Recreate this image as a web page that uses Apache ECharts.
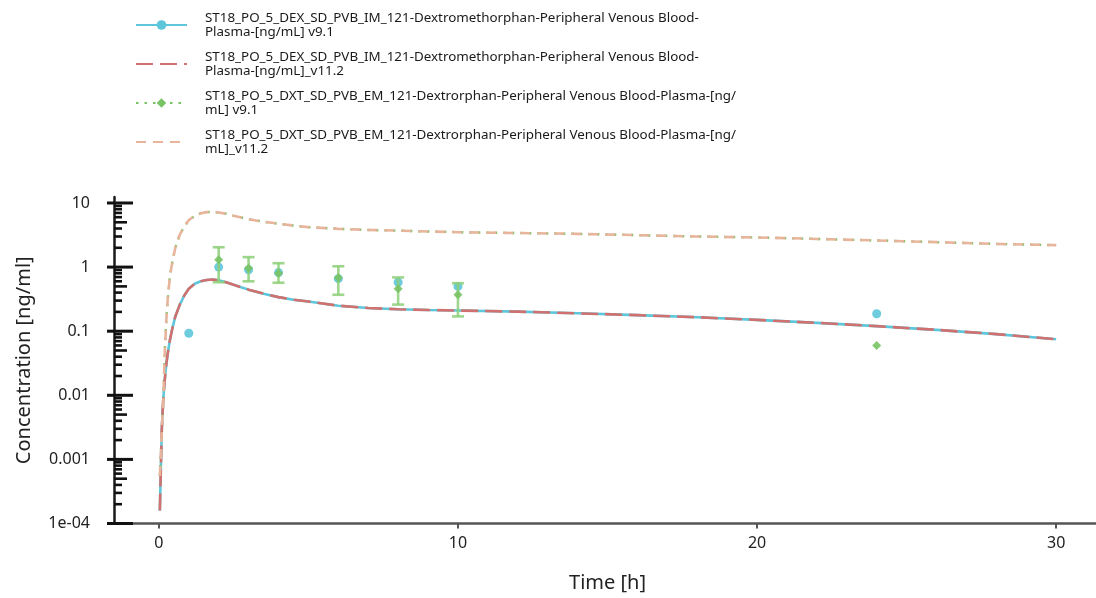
<!DOCTYPE html>
<html>
<head>
<meta charset="utf-8">
<script src="https://cdn.jsdelivr.net/npm/echarts@6/dist/echarts.min.js"></script>
<style>
  html, body { margin: 0; padding: 0; background: #ffffff; }
  #chart { width: 1096px; height: 598px; }
</style>
</head>
<body>
<div id="chart"></div>
<script>
// Series names (legend wraps them onto two lines)
const seriesNames = [
  'ST18_PO_5_DEX_SD_PVB_IM_121-Dextromethorphan-Peripheral Venous Blood-Plasma-[ng/mL] v9.1',
  'ST18_PO_5_DEX_SD_PVB_IM_121-Dextromethorphan-Peripheral Venous Blood-Plasma-[ng/mL]_v11.2',
  'ST18_PO_5_DXT_SD_PVB_EM_121-Dextrorphan-Peripheral Venous Blood-Plasma-[ng/mL] v9.1',
  'ST18_PO_5_DXT_SD_PVB_EM_121-Dextrorphan-Peripheral Venous Blood-Plasma-[ng/mL]_v11.2'
];
const legendLines = [
  'ST18_PO_5_DEX_SD_PVB_IM_121-Dextromethorphan-Peripheral Venous Blood-\nPlasma-[ng/mL] v9.1',
  'ST18_PO_5_DEX_SD_PVB_IM_121-Dextromethorphan-Peripheral Venous Blood-\nPlasma-[ng/mL]_v11.2',
  'ST18_PO_5_DXT_SD_PVB_EM_121-Dextrorphan-Peripheral Venous Blood-Plasma-[ng/\nmL] v9.1',
  'ST18_PO_5_DXT_SD_PVB_EM_121-Dextrorphan-Peripheral Venous Blood-Plasma-[ng/\nmL]_v11.2'
];

// Simulated time course [h]
const simTime = [0.033, 0.067, 0.1, 0.15, 0.2, 0.25, 0.3, 0.37, 0.45, 0.55, 0.7, 0.85, 1, 1.2, 1.4, 1.6, 1.8, 2,
  2.25, 2.5, 2.75, 3, 3.5, 4, 4.5, 5, 6, 7, 8, 9, 10, 12, 14, 16, 18, 20, 22, 24, 26, 28, 30];
// Dextromethorphan simulated concentration [ng/ml]
const dexSim = [0.00016, 0.00075, 0.0031, 0.0092, 0.018, 0.031, 0.046, 0.073, 0.11, 0.17, 0.26, 0.36, 0.46, 0.55,
  0.60, 0.63, 0.64, 0.625, 0.58, 0.53, 0.485, 0.445, 0.385, 0.34, 0.31, 0.29, 0.25, 0.23, 0.22, 0.214, 0.21,
  0.202, 0.19, 0.178, 0.165, 0.15, 0.135, 0.12, 0.105, 0.09, 0.075];
// Dextrorphan simulated concentration [ng/ml]
const dxtSim = [0.00055, 0.0012, 0.003, 0.009, 0.05, 0.15, 0.33, 0.72, 1.2, 2.0, 3.2, 4.3, 5.4, 6.3,
  6.9, 7.2, 7.25, 7.1, 6.8, 6.3, 5.95, 5.6, 5.1, 4.75, 4.45, 4.2, 3.95, 3.8, 3.7, 3.6, 3.5,
  3.4, 3.3, 3.15, 3.0, 2.9, 2.75, 2.6, 2.45, 2.3, 2.2];

// Observed data
const dexObsTime = [1, 2, 3, 4, 6, 8, 10, 24];
const dexObs = [0.093, 1.0, 0.91, 0.82, 0.66, 0.58, 0.50, 0.187];
const dxtObsTime = [2, 3, 4, 6, 8, 10, 24];
const dxtObs = [1.3, 0.96, 0.80, 0.68, 0.46, 0.37, 0.06];
const dxtObsLow = [0.58, 0.60, 0.57, 0.37, 0.26, 0.17, null];
const dxtObsHigh = [2.04, 1.43, 1.15, 1.03, 0.69, 0.56, null];

// Axis ticks
const xTicks = [0, 10, 20, 30];
const yTickValues = [1e-4, 1e-3, 0.01, 0.1, 1, 10];
const yTickLabels = ['1e-04', '0.001', '0.01', '0.1', '1', '10'];

const X_MIN = -1.5, X_MAX = 31.5, Y_MIN = 1e-4, Y_MAX = 12.4;

const colors = {
  dex: '#5ec6da',
  dexNew: '#d0706f',
  dxt: '#78c364',
  dxtNew: '#e8b49b',
  bar: '#8ccf78'
};

const pairs = (xs, ys) => xs.map((x, i) => [x, ys[i]]);

// Major and minor tick positions for the log axis
const yAxisTickData = [];
yTickValues.forEach((m, idx) => {
  yAxisTickData.push([X_MIN, m, 2]);
  if (idx < yTickValues.length - 1) {
    for (let k = 2; k <= 9; k++) yAxisTickData.push([X_MIN, m * k, k === 5 ? 1 : 0]);
  }
});

const errorData = [];
dxtObsTime.forEach((t, i) => {
  if (dxtObsLow[i] != null) errorData.push([t, dxtObsLow[i], dxtObsHigh[i]]);
});

const chart = echarts.init(document.getElementById('chart'), null, { renderer: 'canvas' });

const font = 'Noto Sans';

chart.setOption({
  animation: false,
  backgroundColor: '#ffffff',
  textStyle: { fontFamily: font },
  legend: {
    orient: 'vertical',
    left: 130,
    top: 6,
    itemGap: 11,
    itemWidth: 51,
    itemHeight: 12,
    data: [
      { name: seriesNames[0] },
      { name: seriesNames[1], itemStyle: { opacity: 0 } },
      { name: seriesNames[2] },
      { name: seriesNames[3], itemStyle: { opacity: 0 } }
    ],
    formatter: name => legendLines[seriesNames.indexOf(name)],
    textStyle: { fontFamily: font, fontSize: 13.4, lineHeight: 14, color: '#1a1a1a', padding: [0, 0, 0, 13] }
  },
  grid: {
    left: 114,
    top: 197,
    width: 987,
    height: 326.5,
    containLabel: false,
    outerBoundsMode: 'none'
  },
  xAxis: {
    type: 'value',
    min: X_MIN,
    max: X_MAX,
    name: 'Time [h]',
    nameLocation: 'middle',
    nameGap: 50,
    nameTextStyle: { fontFamily: font, fontSize: 20, color: '#222' },
    axisLine: { show: true, onZero: false, lineStyle: { color: '#555', width: 2.5 } },
    axisTick: { show: true, customValues: xTicks, length: 5, lineStyle: { color: '#555', width: 2 } },
    axisLabel: { customValues: xTicks, margin: 12, fontFamily: font, fontSize: 16, color: '#222' },
    splitLine: { show: false }
  },
  yAxis: {
    type: 'log',
    logBase: 10,
    min: Y_MIN,
    max: Y_MAX,
    name: 'Concentration [ng/ml]',
    nameLocation: 'middle',
    nameGap: 80,
    nameTextStyle: { fontFamily: font, fontSize: 20, color: '#222' },
    axisLine: { show: true, onZero: false, lineStyle: { color: '#1a1a1a', width: 2.5 } },
    axisTick: { show: false },
    axisLabel: {
      customValues: yTickValues,
      margin: 24,
      fontFamily: font,
      fontSize: 16,
      color: '#222',
      formatter: v => {
        let best = 0;
        yTickValues.forEach((t, i) => {
          if (Math.abs(Math.log10(t) - Math.log10(v)) < Math.abs(Math.log10(yTickValues[best]) - Math.log10(v))) best = i;
        });
        return yTickLabels[best];
      }
    },
    splitLine: { show: false },
    minorSplitLine: { show: false }
  },
  series: [
    {
      name: seriesNames[0],
      type: 'line',
      data: pairs(simTime, dexSim),
      symbol: 'circle',
      showSymbol: false,
      color: colors.dex,
      lineStyle: { color: colors.dex, width: 2.6 },
      z: 2
    },
    {
      name: seriesNames[1],
      type: 'line',
      data: pairs(simTime, dexSim),
      symbol: 'none',
      color: colors.dexNew,
      lineStyle: { color: colors.dexNew, width: 2.6, type: [17, 7] },
      z: 3
    },
    {
      name: seriesNames[2],
      type: 'line',
      data: pairs(simTime, dxtSim),
      symbol: 'diamond',
      showSymbol: false,
      color: colors.dxt,
      lineStyle: { color: colors.dxt, width: 2.4, type: [2.5, 6] },
      z: 2
    },
    {
      name: seriesNames[3],
      type: 'line',
      data: pairs(simTime, dxtSim),
      symbol: 'none',
      color: colors.dxtNew,
      lineStyle: { color: colors.dxtNew, width: 2.6, type: [10, 7] },
      z: 3
    },
    {
      name: seriesNames[0],
      type: 'scatter',
      data: pairs(dexObsTime, dexObs),
      symbol: 'circle',
      symbolSize: 9,
      itemStyle: { color: colors.dex, opacity: 0.9 },
      z: 5
    },
    {
      name: seriesNames[2],
      type: 'custom',
      data: errorData,
      encode: { x: 0, y: [1, 2] },
      renderItem: (params, api) => {
        const t = api.value(0);
        const lo = api.coord([t, api.value(1)]);
        const hi = api.coord([t, api.value(2)]);
        const cap = 6;
        const st = { stroke: colors.bar, lineWidth: 2.6, opacity: 0.85 };
        return {
          type: 'group',
          children: [
            { type: 'line', shape: { x1: lo[0], y1: lo[1], x2: hi[0], y2: hi[1] }, style: st },
            { type: 'line', shape: { x1: lo[0] - cap, y1: lo[1], x2: lo[0] + cap, y2: lo[1] }, style: st },
            { type: 'line', shape: { x1: hi[0] - cap, y1: hi[1], x2: hi[0] + cap, y2: hi[1] }, style: st }
          ]
        };
      },
      z: 6
    },
    {
      name: seriesNames[2],
      type: 'scatter',
      data: pairs(dxtObsTime, dxtObs),
      symbol: 'diamond',
      symbolSize: 9,
      itemStyle: { color: colors.dxt, opacity: 0.9 },
      z: 7
    },
    {
      // Log-axis major and minor tick marks
      type: 'custom',
      data: yAxisTickData,
      encode: { x: 0, y: 1 },
      clip: false,
      silent: true,
      renderItem: (params, api) => {
        const kind = api.value(2);
        const p = api.coord([api.value(0), api.value(1)]);
        const x1 = kind === 2 ? p[0] - 7 : p[0];
        const x2 = p[0] + (kind === 2 ? 19 : (kind === 1 ? 13 : 8));
        return {
          type: 'line',
          shape: { x1: x1, y1: p[1], x2: x2, y2: p[1] },
          style: { stroke: '#111', lineWidth: kind === 2 ? 3 : 2.6 }
        };
      },
      z: 10
    }
  ]
});
</script>
</body>
</html>
